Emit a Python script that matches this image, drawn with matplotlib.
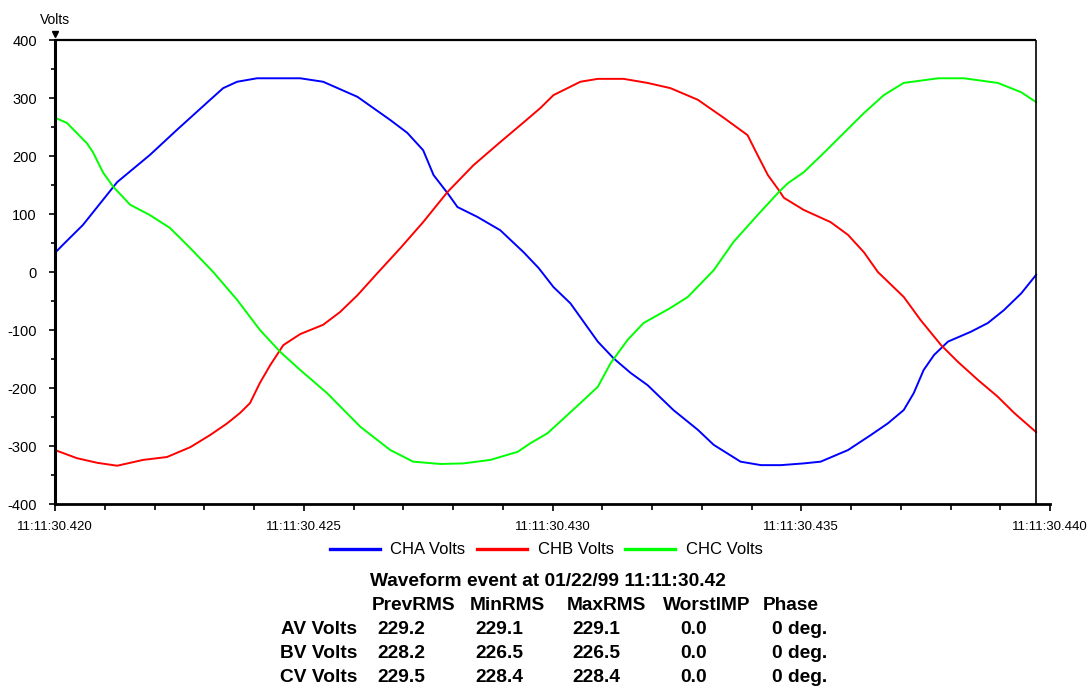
import matplotlib.pyplot as plt
from matplotlib.ticker import MultipleLocator, FuncFormatter
from matplotlib import transforms

plt.rcParams['font.family'] = ['Liberation Sans', 'DejaVu Sans']

# time axis: milliseconds after 11:11:30.420
start_sec = 30.420

cha_t = [0.00, 0.16, 0.56, 1.25, 1.91, 2.45, 3.12, 3.38, 3.66, 4.06,
         4.93, 5.39, 6.08, 6.74, 7.08, 7.40, 7.61, 7.89, 8.09, 8.49,
         8.95, 9.42, 9.72, 10.02, 10.36, 10.91, 11.23, 11.57, 11.91, 12.43,
         12.92, 13.24, 13.78, 14.19, 14.59, 15.05, 15.39, 15.94, 16.40, 16.74,
         17.06, 17.26, 17.46, 17.67, 17.95, 18.41, 18.75, 19.07, 19.42, 19.72]
cha_v = [33, 47, 81, 155, 202, 245, 297, 317, 328, 334,
         334, 328, 302, 262, 240, 210, 167, 136, 112, 95,
         72, 34, 7, -26, -54, -120, -149, -174, -195, -238,
         -272, -298, -327, -333, -333, -330, -327, -307, -281, -261,
         -238, -209, -169, -143, -120, -103, -88, -66, -37, -5]

chb_t = [0.00, 0.44, 0.85, 1.25, 1.77, 2.25, 2.72, 3.12, 3.46, 3.72,
         3.92, 4.12, 4.33, 4.59, 4.93, 5.39, 5.73, 6.08, 6.48, 6.94,
         7.40, 7.89, 8.41, 8.95, 9.42, 9.76, 10.02, 10.56, 10.91, 11.43,
         11.91, 12.37, 12.92, 13.44, 13.92, 14.12, 14.33, 14.55, 14.65, 15.05,
         15.59, 15.94, 16.26, 16.54, 17.06, 17.40, 17.81, 18.15, 18.55, 18.95,
         19.28, 19.72]
chb_v = [-307, -321, -329, -334, -324, -319, -302, -281, -261, -243,
         -226, -191, -160, -126, -107, -91, -69, -40, -2, 41,
         86, 138, 184, 224, 258, 283, 305, 328, 333, 333,
         326, 317, 297, 266, 236, 202, 167, 141, 128, 107,
         86, 64, 34, 0, -43, -83, -126, -155, -186, -215,
         -243, -276]

chc_t = [0.00, 0.24, 0.64, 0.76, 0.97, 1.17, 1.51, 1.91, 2.31, 2.72,
         3.18, 3.66, 4.12, 4.53, 4.93, 5.47, 6.14, 6.74, 7.20, 7.75,
         8.21, 8.75, 9.30, 9.56, 9.90, 10.56, 10.91, 11.17, 11.51, 11.83,
         12.37, 12.72, 13.24, 13.64, 14.12, 14.55, 14.73, 15.05, 15.45, 16.26,
         16.66, 17.06, 17.75, 18.27, 18.95, 19.42, 19.72]
chc_v = [266, 257, 222, 207, 171, 147, 116, 98, 76, 41,
         0, -48, -100, -138, -169, -209, -267, -307, -327, -331,
         -330, -324, -310, -295, -278, -226, -198, -157, -117, -88,
         -62, -43, 3, 52, 98, 138, 153, 172, 205, 274,
         305, 326, 334, 334, 326, 310, 293]

series_names = ['CHA Volts', 'CHB Volts', 'CHC Volts']
series_colors = ['#0000ff', '#ff0000', '#00ff00']

# summary table under the chart
event_title = 'Waveform event at 01/22/99 11:11:30.42'
col_headers = ['PrevRMS', 'MinRMS', 'MaxRMS', 'WorstIMP', 'Phase']
row_labels = ['AV Volts', 'BV Volts', 'CV Volts']
prev_rms = [229.2, 228.2, 229.5]
min_rms = [229.1, 226.5, 228.4]
max_rms = [229.1, 226.5, 228.4]
worst_imp = [0.0, 0.0, 0.0]
phase_deg = [0, 0, 0]

W, H = 1090, 689
fig = plt.figure(figsize=(W / 100, H / 100), dpi=100)
ax = fig.add_axes([55 / W, 1 - 504 / H, 995 / W, 464 / H])

for t, v, name, c in zip([cha_t, chb_t, chc_t], [cha_v, chb_v, chc_v],
                         series_names, series_colors):
    ax.plot(t, v, color=c, lw=1.4, label=name)

ax.set_xlim(0, 20)
ax.set_ylim(-400, 400)
ax.xaxis.set_major_locator(MultipleLocator(5))
ax.xaxis.set_minor_locator(MultipleLocator(1))
ax.yaxis.set_major_locator(MultipleLocator(100))
ax.yaxis.set_minor_locator(MultipleLocator(50))
ax.xaxis.set_major_formatter(
    FuncFormatter(lambda v, p: f"11:11:{start_sec + v / 1000:06.3f}"))
ax.yaxis.set_major_formatter(FuncFormatter(lambda v, p: f"{v:.0f}"))

ax.tick_params(axis='both', which='major', width=1.2, color='black')
ax.tick_params(axis='y', which='major', length=4, pad=9, labelsize=10.5)
ax.tick_params(axis='y', which='minor', length=3, width=1.2)
ax.tick_params(axis='x', which='major', length=5, pad=7, labelsize=9.5)
ax.tick_params(axis='x', which='minor', length=4, width=1.2)

ax.spines['top'].set_visible(False)
ax.spines['right'].set_visible(False)
ax.spines['left'].set_linewidth(2.2)
ax.spines['bottom'].set_linewidth(2.0)

# plot frame stops where the samples end
t_end = max(cha_t)
ax.hlines(400, 0, t_end, color='black', lw=1.6, clip_on=False)
ax.vlines(t_end, -400, 400, color='black', lw=1.2, clip_on=False)

# "Volts" unit label with little marker
tri = transforms.offset_copy(ax.transAxes, fig=fig, x=0, y=6, units='dots')
ax.plot([0], [1], marker='v', ms=4, color='black', transform=tri, clip_on=False)
fig.text(55 / W, 1 - 20 / H, 'Volts', ha='center', va='center', fontsize=10)

leg = fig.legend(loc='center', ncol=3, bbox_to_anchor=(546 / W, 1 - 550 / H),
                 frameon=False, fontsize=12, handlelength=3.0,
                 handletextpad=0.66, columnspacing=0.66)
for line in leg.get_lines():
    line.set_linewidth(2.4)

bold = dict(fontsize=13.8, fontweight='bold', va='center')
fig.text(370 / W, 1 - 582 / H, event_title, ha='left', **bold)

header_x = [372, 470, 567, 663, 763]
value_x = [377, 475, 572, 680, 772]
row_y = [630, 654, 678]
for hx, hd in zip(header_x, col_headers):
    fig.text(hx / W, 1 - 606 / H, hd, ha='left', **bold)

for i, lab in enumerate(row_labels):
    y = 1 - row_y[i] / H
    fig.text(357 / W, y, lab, ha='right', **bold)
    vals = [f"{prev_rms[i]:.1f}", f"{min_rms[i]:.1f}", f"{max_rms[i]:.1f}",
            f"{worst_imp[i]:.1f}", f"{phase_deg[i]} deg."]
    for vx, s in zip(value_x, vals):
        fig.text(vx / W, y, s, ha='left', **bold)

fig.savefig('out.png', dpi=100, facecolor='white')
